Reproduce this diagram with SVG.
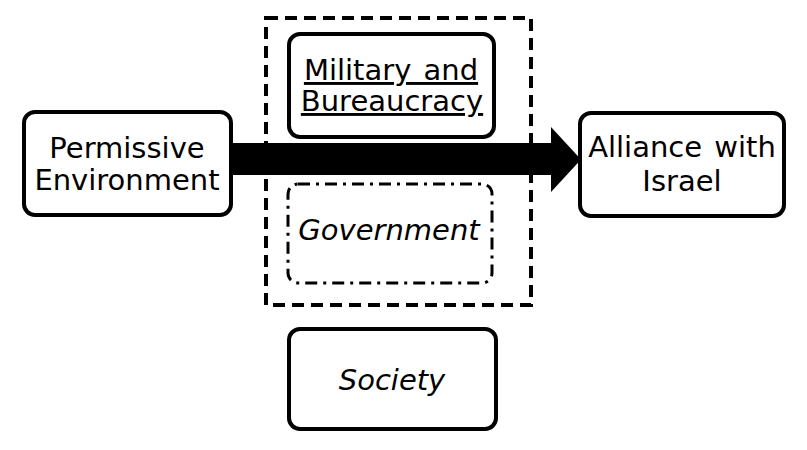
<svg xmlns="http://www.w3.org/2000/svg" width="807" height="450" viewBox="0 0 807 450">
<style>
.box{fill:#fff;stroke:#000;stroke-width:4}
.t{font-family:"DejaVu Sans",Verdana,sans-serif;font-size:29px;fill:#000;text-anchor:middle}
.i{font-style:italic}
</style>
<rect width="807" height="450" fill="#fff"/>
<g id="outer">
<rect x="266" y="18" width="265" height="287" fill="none" stroke="#000" stroke-width="4" stroke-dasharray="12 7"/>
</g>
<g id="military">
<rect class="box" x="289" y="34" width="205" height="103" rx="11"/>
<text class="t" x="391" y="80" text-decoration="underline" word-spacing="3">Military and</text>
<text class="t" x="392" y="111" text-decoration="underline">Bureaucracy</text>
</g>
<g id="government">
<rect x="288" y="184" width="204" height="99" rx="10" fill="#fff" stroke="#000" stroke-width="3" stroke-dasharray="12 6 3 6"/>
<text class="t i" x="389" y="240">Government</text>
</g>
<g id="permissive">
<rect class="box" x="24" y="112" width="207" height="103" rx="11"/>
<text class="t" x="127" y="158">Permissive</text>
<text class="t" x="127" y="190">Environment</text>
</g>
<g id="alliance">
<rect class="box" x="580" y="113" width="204" height="103" rx="11"/>
<text class="t" x="682" y="157" word-spacing="3">Alliance with</text>
<text class="t" x="682" y="191">Israel</text>
</g>
<g id="society">
<rect class="box" x="289" y="329" width="207" height="100" rx="11"/>
<text class="t i" x="392" y="390">Society</text>
</g>
<g id="connectors">
<polygon points="232,143 551,143 551,127 581,159.5 551,192 551,175 232,175" fill="#000"/>
</g>
</svg>
